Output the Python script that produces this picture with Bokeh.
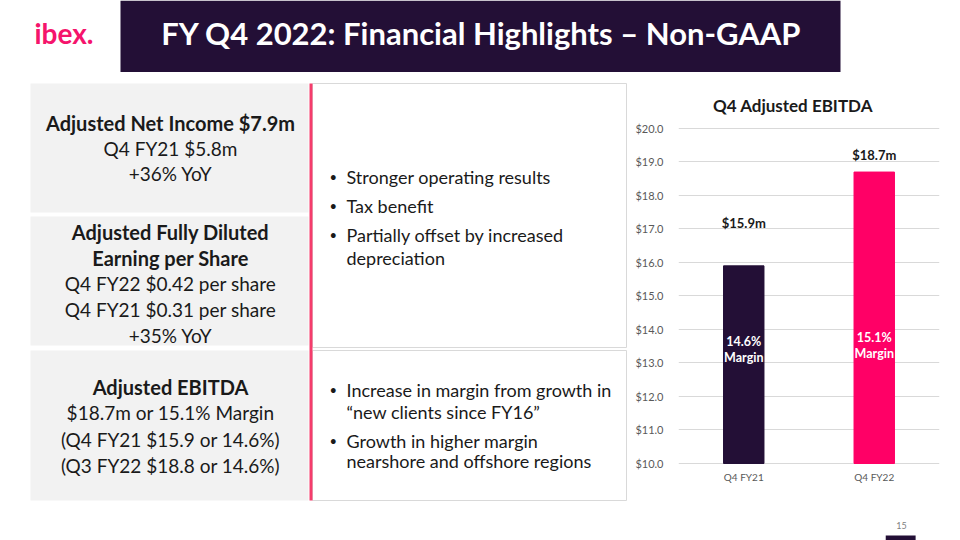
from bokeh.plotting import figure
from bokeh.layouts import column, row
from bokeh.models import (Range1d, ColumnDataSource, NumeralTickFormatter, FixedTicker,
                          FactorRange, Label)
from bokeh.core.properties import value
from bokeh.embed import file_html
from bokeh.resources import INLINE

FONT = "Lato"
DARK = "#230f36"
PINK = "#ff0066"
TEXT = "#1a1a1a"

# ---------------- data ----------------
slide_title = "FY Q4 2022: Financial Highlights \u2013 Non-GAAP"
logo_text = "ibex."
chart_title = "Q4 Adjusted EBITDA"
categories = ["Q4 FY21", "Q4 FY22"]
ebitda = [15.9, 18.7]
value_labels = ["$15.9m", "$18.7m"]
margin_labels = ["14.6%\nMargin", "15.1%\nMargin"]
y_ticks = [10, 11, 12, 13, 14, 15, 16, 17, 18, 19, 20]
page_number = "15"

box1_lines = ["Adjusted Net Income $7.9m", "Q4 FY21 $5.8m", "+36% YoY"]
box2_lines = ["Adjusted Fully Diluted", "Earning per Share", "Q4 FY22 $0.42 per share",
              "Q4 FY21 $0.31 per share", "+35% YoY"]
box3_lines = ["Adjusted EBITDA", "$18.7m or 15.1% Margin", "(Q4 FY21 $15.9 or 14.6%)",
              "(Q3 FY22 $18.8 or 14.6%)"]
bullets_top = ["Stronger operating results", "Tax benefit", "Partially offset by increased",
               "depreciation"]
bullets_bottom = ["Increase in margin from growth in", "\u201cnew clients since FY16\u201d",
                  "Growth in higher margin", "nearshore and offshore regions"]


def blank(w, h, x0, x1, y0, y1):
    f = figure(width=w, height=h, x_range=Range1d(x0, x1), y_range=Range1d(y1, y0),
               x_axis_type=None, y_axis_type=None, output_backend="svg",
               toolbar_location=None, min_border=0)
    f.grid.visible = False
    f.outline_line_color = None
    f.background_fill_color = "white"
    f.border_fill_color = "white"
    return f


# ---------------- header ----------------
hdr = blank(960, 72, 0, 960, 0, 72)
hdr.quad(left=[120], right=[840], top=[0], bottom=[72], fill_color=DARK, line_color=None)
hdr.text(x=[481], y=[32], text=[slide_title], text_align="center", text_baseline="middle",
         text_font=value(FONT), text_font_style="bold", text_font_size="31px",
         text_color="white")
hdr.text(x=[34], y=[32], text=[logo_text], text_align="left", text_baseline="middle",
         text_font=value(FONT), text_font_style="bold", text_font_size="28px",
         text_color="#f5146c")

# ---------------- left panel ----------------
lp = blank(632, 468, 0, 632, 72, 540)
lp.quad(left=[30, 30, 30], right=[308, 308, 308], top=[83, 216, 350], bottom=[212, 345, 500],
        fill_color="#f2f2f2", line_color=None)
lp.quad(left=[312, 312], right=[626, 626], top=[83, 350], bottom=[347, 500],
        fill_color="white", line_color="#d9d9d9", line_width=1)
lp.segment(x0=[310.5], y0=[83], x1=[310.5], y1=[500], line_color="#f53c6c", line_width=3)


def centered(lines, ys, bold_n):
    for i, (t, y) in enumerate(zip(lines, ys)):
        b = i < bold_n
        lp.text(x=[170], y=[y], text=[t], text_align="center", text_baseline="middle",
                text_font=value(FONT), text_font_size="20px" if b else "19px",
                text_font_style="bold" if b else "normal", text_color=TEXT)


centered(box1_lines, [122, 148, 173], 1)
centered(box2_lines, [231, 257, 283, 309, 335], 2)
centered(box3_lines, [386, 412, 439, 465], 1)


def bullets(lines, ys, has_bullet):
    for t, y, b in zip(lines, ys, has_bullet):
        if b:
            lp.text(x=[329], y=[y], text=["\u2022"], text_align="left", text_baseline="middle",
                    text_font=value(FONT), text_font_size="13px", text_color=TEXT)
        lp.text(x=[346], y=[y], text=[t], text_align="left", text_baseline="middle",
                text_font=value(FONT), text_font_size="18px", text_color=TEXT)


bullets(bullets_top, [176, 205, 234, 257], [True, True, True, False])
bullets(bullets_bottom, [389, 411, 440, 460], [True, False, True, False])

# ---------------- chart ----------------
src = ColumnDataSource(dict(cat=categories, val=ebitda, lab=value_labels, mlab=margin_labels,
                            color=[DARK, PINK], base=[10, 10],
                            voff=[-43, -17], moff=[-114, -118]))
cat_src = ColumnDataSource(dict(cat=categories, base=[10, 10]))

cp = figure(width=328, height=468, x_range=FactorRange(*categories),
            y_range=Range1d(7.7015, 21.6716),
            output_backend="svg", toolbar_location=None,
            min_border_left=45, min_border_right=21, min_border_top=0, min_border_bottom=0)
cp.outline_line_color = None
cp.background_fill_color = "white"
cp.border_fill_color = "white"
cp.xaxis.visible = False

cp.vbar(x="cat", top="val", bottom="base", width=0.31, fill_color="color",
        line_color="color", source=src)
cp.text(x="cat", y="val", text="lab", y_offset="voff", source=src, text_align="center",
        text_baseline="middle", text_font=value(FONT), text_font_style="bold",
        text_font_size="13px", text_color=TEXT)
cp.text(x="cat", y="base", text="mlab", y_offset="moff", source=src, text_align="center",
        text_baseline="middle", text_font=value(FONT), text_font_style="bold",
        text_font_size="12.5px", text_color="white", text_line_height=1.05)
cp.text(x="cat", y="base", text="cat", y_offset=14, source=cat_src, text_align="center",
        text_baseline="middle", text_font=value(FONT), text_font_size="10px",
        text_color="#595959")

cp.yaxis.ticker = FixedTicker(ticks=y_ticks)
cp.yaxis.formatter = NumeralTickFormatter(format="$0.0")
cp.yaxis.axis_line_color = None
cp.yaxis.major_tick_line_color = None
cp.yaxis.minor_tick_line_color = None
cp.yaxis.major_label_standoff = 9
cp.yaxis.major_label_text_font = FONT
cp.yaxis.major_label_text_font_size = "11px"
cp.yaxis.major_label_text_color = "#595959"

cp.xgrid.grid_line_color = None
cp.ygrid.ticker = FixedTicker(ticks=y_ticks)
cp.ygrid.grid_line_color = "#d9d9d9"

# screen units here are measured from the frame's left/bottom edges
cp.add_layout(Label(x=114.5, y=435, x_units="screen", y_units="screen", text=chart_title,
                    text_align="center", text_baseline="middle", text_font=FONT,
                    text_font_size="17px", text_font_style="bold", text_color=TEXT))
cp.add_layout(Label(x=223, y=15, x_units="screen", y_units="screen", text=page_number,
                    text_align="center", text_baseline="middle", text_font=FONT,
                    text_font_size="9px", text_color="#7f7f7f"))
# decorative footer tab (synthetic coordinates on the categorical axis)
cp.quad(left=[1.588], right=[1.817], top=[7.851], bottom=[7.7015], fill_color=DARK,
        line_color=None)

layout = column(hdr, row(lp, cp, spacing=0), spacing=0)

with open("out.html", "w") as fh:
    fh.write(file_html(layout, INLINE))
